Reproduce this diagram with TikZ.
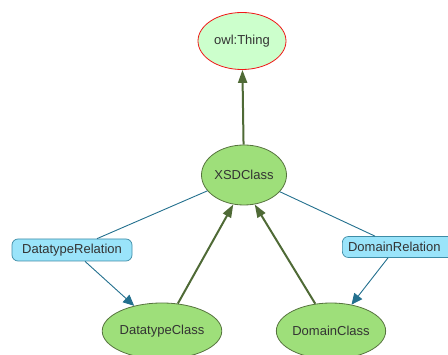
\documentclass[tikz,border=0pt]{standalone}
\usepackage{fontspec}
\setmainfont{Liberation Sans}
\usetikzlibrary{shapes.geometric,arrows.meta,calc}
\definecolor{classfill}{HTML}{9EDF7A}
\definecolor{classline}{HTML}{56733E}
\definecolor{thingfill}{HTML}{CCFFCC}
\definecolor{thingline}{HTML}{F01818}
\definecolor{relfill}{HTML}{9AE4FA}
\definecolor{relline}{HTML}{3E8CA6}
\definecolor{isaline}{HTML}{4F6A36}
\definecolor{relarrow}{HTML}{23708E}
\tikzset{
  classnode/.style={ellipse, draw=classline, fill=classfill, line width=0.8pt,
    inner sep=0pt, font=\fontsize{13}{15}\selectfont, text=black!80},
  thingnode/.style={classnode, draw=thingline, fill=thingfill},
  relnode/.style={rectangle, rounded corners=6pt, draw=relline, fill=relfill,
    line width=0.7pt, inner sep=0pt, font=\fontsize{13}{15}\selectfont, text=black!80},
  isa/.style={draw=isaline, line width=2pt, -{Triangle[length=13pt,width=9pt]}},
  rellink/.style={draw=relarrow, line width=0.9pt},
  relarr/.style={rellink, -{Triangle[length=11pt,width=10pt]}}
}
\begin{document}
\begin{tikzpicture}[x=1pt,y=-1pt]
\useasboundingbox (0,0) rectangle (448,355);
\clip (0,0) rectangle (448,355);
% class nodes
\node[thingnode, minimum width=88pt, minimum height=57pt] (thing) at (242,41) {owl:Thing};
\node[classnode, minimum width=85pt, minimum height=60pt] (xsd) at (244,175) {XSDClass};
\node[classnode, minimum width=112pt, minimum height=56pt] (dtc) at (162,331) {DatatypeClass};
\node[classnode, minimum width=107pt, minimum height=56pt] (dmc) at (331,331) {DomainClass};
% relation nodes
\node[relnode, minimum width=120pt, minimum height=22pt] (dtr) at (72,250) {DatatypeRelation};
\node[relnode, minimum width=116pt, minimum height=21pt, anchor=west] (dmr) at (342,247) {\hspace*{-12pt}DomainRelation};
% attachment points on the relation boxes
\coordinate (dtrin)  at ($(dtr.north)+(25,0)$);
\coordinate (dtrout) at ($(dtr.south)+(13,0)$);
\coordinate (dmrin)  at ($(dmr.north west)+(33,0)$);
\coordinate (dmrout) at ($(dmr.south west)+(46,0)$);
% subclass arrows
\draw[isa] (xsd) -- (thing);
\draw[isa] (dtc.60) -- (xsd.250);
\draw[isa] (dmc.120) -- (xsd.290);
% relation links
\draw[rellink] (xsd) -- (dtrin);
\draw[relarr] (dtrout) -- (dtc);
\draw[rellink] (xsd) -- (dmrin);
\draw[relarr] (dmrout) -- (dmc);
\end{tikzpicture}
\end{document}
